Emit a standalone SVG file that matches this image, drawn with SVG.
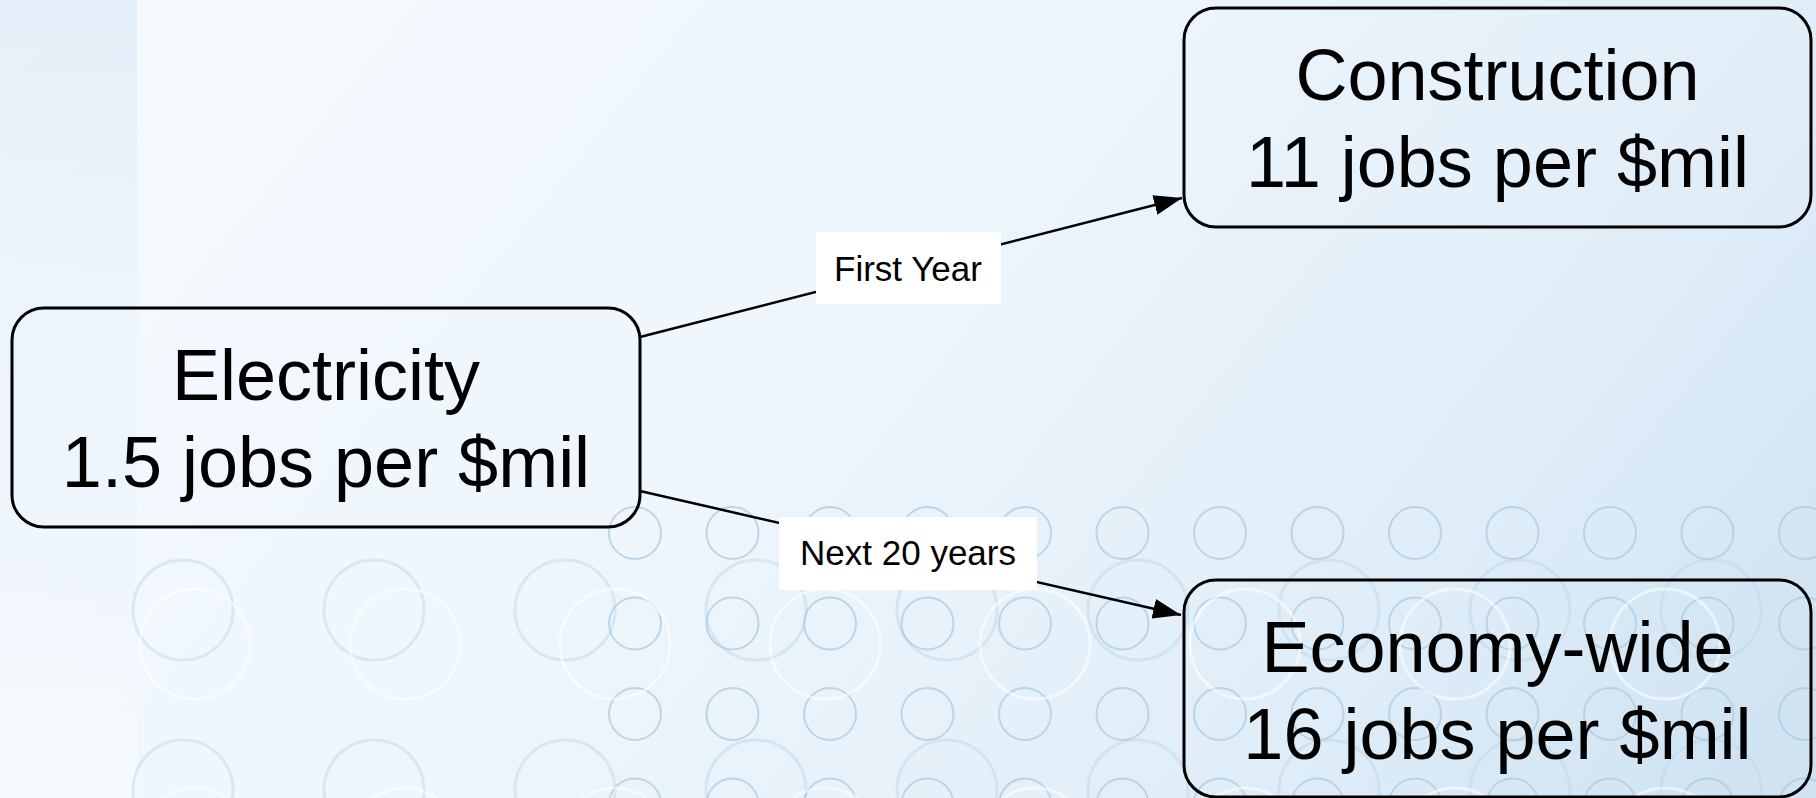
<svg xmlns="http://www.w3.org/2000/svg" width="1816" height="798" viewBox="0 0 1816 798">
  <defs>
    <linearGradient id="bg" gradientUnits="userSpaceOnUse" x1="0" y1="0" x2="1450" y2="1150">
      <stop offset="0" stop-color="#f6fafe"/>
      <stop offset="0.45" stop-color="#eef6fc"/>
      <stop offset="0.8" stop-color="#dfedf8"/>
      <stop offset="1" stop-color="#cfe3f2"/>
    </linearGradient>
    <linearGradient id="strip" x1="0" y1="0" x2="0" y2="1">
      <stop offset="0" stop-color="#dbe9f7" stop-opacity="0.6"/>
      <stop offset="0.6" stop-color="#e4eff9" stop-opacity="0.3"/>
      <stop offset="1" stop-color="#ffffff" stop-opacity="0.4"/>
    </linearGradient>
    <marker id="arrow" markerUnits="userSpaceOnUse" markerWidth="28" markerHeight="20" refX="28" refY="10" orient="auto">
      <path d="M0,0 L28,10 L0,20 Z" fill="#000"/>
    </marker>
  </defs>
  <style>
    .sm { fill: none; stroke: #aecbe0; stroke-width: 2; stroke-opacity: 0.75; }
    .lg { fill: none; stroke: #bcd5e8; stroke-width: 3; stroke-opacity: 0.45; }
    .wh { fill: none; stroke: #ffffff; stroke-width: 3; stroke-opacity: 0.55; }
    .node rect { fill: none; stroke: #000; stroke-width: 3; }
    .node text { font-family: "Liberation Sans", Arial, Helvetica, sans-serif; font-size: 72px; fill: #000; text-anchor: middle; }
    .edge line { stroke: #000; stroke-width: 2.5; marker-end: url(#arrow); }
    .lbl rect { fill: #fff; }
    .lbl text { font-family: "Liberation Sans", Arial, Helvetica, sans-serif; font-size: 35px; fill: #000; text-anchor: middle; }
  </style>

  <g id="background">
    <rect x="0" y="0" width="1816" height="798" fill="url(#bg)"/>
    <rect x="0" y="0" width="137" height="798" fill="url(#strip)"/>
    <g id="large-circles">
      <circle class="lg" cx="183" cy="610" r="50"/><circle class="lg" cx="374" cy="610" r="50"/><circle class="lg" cx="565" cy="610" r="50"/><circle class="lg" cx="756" cy="610" r="50"/><circle class="lg" cx="947" cy="610" r="50"/><circle class="lg" cx="1138" cy="610" r="50"/><circle class="lg" cx="1329" cy="610" r="50"/><circle class="lg" cx="1520" cy="610" r="50"/><circle class="lg" cx="1711" cy="610" r="50"/>
      <circle class="lg" cx="183" cy="790" r="50"/><circle class="lg" cx="374" cy="790" r="50"/><circle class="lg" cx="565" cy="790" r="50"/><circle class="lg" cx="756" cy="790" r="50"/><circle class="lg" cx="947" cy="790" r="50"/><circle class="lg" cx="1138" cy="790" r="50"/><circle class="lg" cx="1329" cy="790" r="50"/><circle class="lg" cx="1520" cy="790" r="50"/><circle class="lg" cx="1711" cy="790" r="50"/>
    </g>
    <g id="small-circles">
      <circle class="sm" cx="635" cy="533" r="26"/><circle class="sm" cx="732.5" cy="533" r="26"/><circle class="sm" cx="830" cy="533" r="26"/><circle class="sm" cx="927.5" cy="533" r="26"/><circle class="sm" cx="1025" cy="533" r="26"/><circle class="sm" cx="1122.5" cy="533" r="26"/><circle class="sm" cx="1220" cy="533" r="26"/><circle class="sm" cx="1317.5" cy="533" r="26"/><circle class="sm" cx="1415" cy="533" r="26"/><circle class="sm" cx="1512.5" cy="533" r="26"/><circle class="sm" cx="1610" cy="533" r="26"/><circle class="sm" cx="1707.5" cy="533" r="26"/><circle class="sm" cx="1805" cy="533" r="26"/>
      <circle class="sm" cx="635" cy="623.5" r="26"/><circle class="sm" cx="732.5" cy="623.5" r="26"/><circle class="sm" cx="830" cy="623.5" r="26"/><circle class="sm" cx="927.5" cy="623.5" r="26"/><circle class="sm" cx="1025" cy="623.5" r="26"/><circle class="sm" cx="1122.5" cy="623.5" r="26"/><circle class="sm" cx="1220" cy="623.5" r="26"/><circle class="sm" cx="1317.5" cy="623.5" r="26"/><circle class="sm" cx="1415" cy="623.5" r="26"/><circle class="sm" cx="1512.5" cy="623.5" r="26"/><circle class="sm" cx="1610" cy="623.5" r="26"/><circle class="sm" cx="1707.5" cy="623.5" r="26"/><circle class="sm" cx="1805" cy="623.5" r="26"/>
      <circle class="sm" cx="635" cy="714" r="26"/><circle class="sm" cx="732.5" cy="714" r="26"/><circle class="sm" cx="830" cy="714" r="26"/><circle class="sm" cx="927.5" cy="714" r="26"/><circle class="sm" cx="1025" cy="714" r="26"/><circle class="sm" cx="1122.5" cy="714" r="26"/><circle class="sm" cx="1220" cy="714" r="26"/><circle class="sm" cx="1317.5" cy="714" r="26"/><circle class="sm" cx="1415" cy="714" r="26"/><circle class="sm" cx="1512.5" cy="714" r="26"/><circle class="sm" cx="1610" cy="714" r="26"/><circle class="sm" cx="1707.5" cy="714" r="26"/><circle class="sm" cx="1805" cy="714" r="26"/>
      <circle class="sm" cx="635" cy="804.5" r="26"/><circle class="sm" cx="732.5" cy="804.5" r="26"/><circle class="sm" cx="830" cy="804.5" r="26"/><circle class="sm" cx="927.5" cy="804.5" r="26"/><circle class="sm" cx="1025" cy="804.5" r="26"/><circle class="sm" cx="1122.5" cy="804.5" r="26"/><circle class="sm" cx="1220" cy="804.5" r="26"/><circle class="sm" cx="1317.5" cy="804.5" r="26"/><circle class="sm" cx="1415" cy="804.5" r="26"/><circle class="sm" cx="1512.5" cy="804.5" r="26"/><circle class="sm" cx="1610" cy="804.5" r="26"/><circle class="sm" cx="1707.5" cy="804.5" r="26"/><circle class="sm" cx="1805" cy="804.5" r="26"/>
    </g>
    <g id="white-circles">
      <circle class="wh" cx="195" cy="644" r="55"/><circle class="wh" cx="405" cy="644" r="55"/><circle class="wh" cx="615" cy="644" r="55"/><circle class="wh" cx="825" cy="644" r="55"/><circle class="wh" cx="1035" cy="644" r="55"/><circle class="wh" cx="1245" cy="644" r="55"/><circle class="wh" cx="1455" cy="644" r="55"/><circle class="wh" cx="1665" cy="644" r="55"/>
      <circle class="wh" cx="195" cy="843" r="55"/><circle class="wh" cx="405" cy="843" r="55"/><circle class="wh" cx="615" cy="843" r="55"/><circle class="wh" cx="825" cy="843" r="55"/><circle class="wh" cx="1035" cy="843" r="55"/><circle class="wh" cx="1245" cy="843" r="55"/><circle class="wh" cx="1455" cy="843" r="55"/><circle class="wh" cx="1665" cy="843" r="55"/>
    </g>
  </g>

  <g id="connectors">
    <g class="edge" id="edge-first-year">
      <line x1="640" y1="337" x2="1182" y2="198"/>
    </g>
    <g class="edge" id="edge-next-20">
      <line x1="640" y1="491" x2="1181" y2="615"/>
    </g>
    <g class="lbl" id="label-first-year">
      <rect x="816" y="232" width="185" height="72"/>
      <text x="908" y="281">First Year</text>
    </g>
    <g class="lbl" id="label-next-20">
      <rect x="779" y="517" width="258" height="73"/>
      <text x="908" y="565">Next 20 years</text>
    </g>
  </g>

  <g class="node" id="node-electricity">
    <rect x="12" y="308" width="628" height="219" rx="32" ry="32"/>
    <text x="326" y="400">Electricity</text>
    <text x="326" y="487">1.5 jobs per $mil</text>
  </g>
  <g class="node" id="node-construction">
    <rect x="1184" y="8" width="627" height="219" rx="32" ry="32"/>
    <text x="1497.5" y="100">Construction</text>
    <text x="1497.5" y="187">11 jobs per $mil</text>
  </g>
  <g class="node" id="node-economy">
    <rect x="1184" y="580" width="627" height="217" rx="32" ry="32"/>
    <text x="1497.5" y="672">Economy-wide</text>
    <text x="1497.5" y="759">16 jobs per $mil</text>
  </g>
</svg>
